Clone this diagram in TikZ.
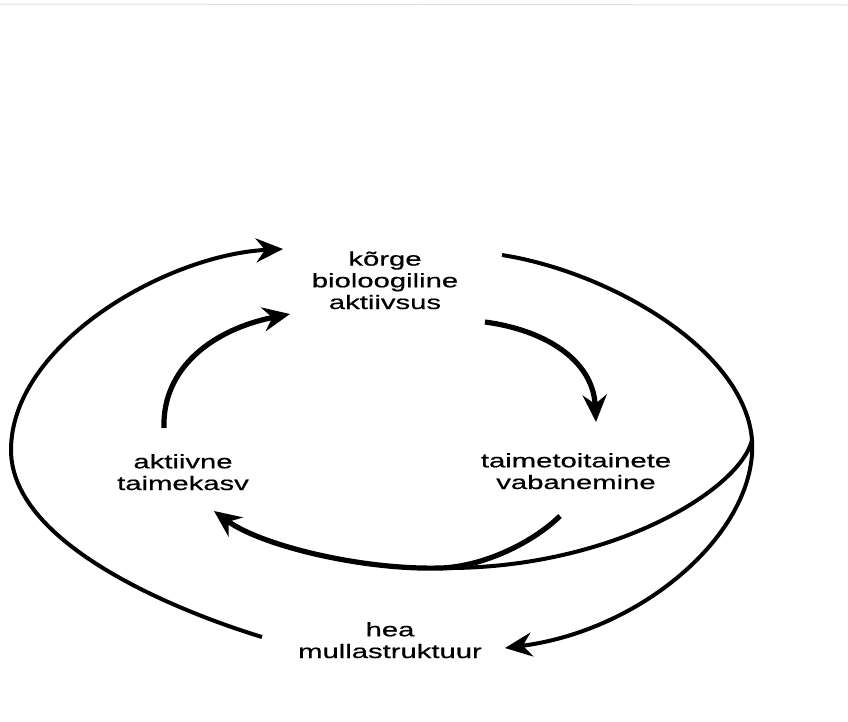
\documentclass[tikz,border=0pt]{standalone}
\usepackage{fontspec}
\newfontfamily\lblfont[FakeStretch=1.5,FakeBold=0.6]{Liberation Sans}
\usetikzlibrary{arrows.meta}
\begin{document}
\begin{tikzpicture}[x=1pt,y=-1pt,
  lbl/.style={font=\lblfont\fontsize{19.5}{21.7}\selectfont, align=center, inner sep=0pt, anchor=base},
  thinarc/.style={line width=4pt},
  thickarc/.style={line width=5.2pt},
  tip/.style={-{Stealth[length=27pt,width=24pt,inset=9pt]}}]
\fill[white] (0,0) rectangle (848,721);
\useasboundingbox (0,0) rectangle (848,721);
\draw[gray!25, line width=1pt] (0,4) -- (848,5);

\node[lbl] (top) at (385,309) {kõrge\\bioloogiline\\aktiivsus};
\node[lbl] (left) at (183,490) {aktiivne\\taimekasv};
\node[lbl] (right) at (576,489) {taimetoitainete\\vabanemine};
\node[lbl] (bottom) at (390,658) {hea\\mullastruktuur};

\coordinate (o1s) at (262,637);
\coordinate (o1l) at (11,450);
\coordinate (o1e) at (283,249);
\coordinate (i1s) at (164,428);
\coordinate (i1e) at (290,314);
\coordinate (i2s) at (485,322);
\coordinate (i2e) at (596,422);
\coordinate (o2s) at (502,255);
\coordinate (J) at (752,440);
\coordinate (o2e) at (505,648);
\coordinate (M) at (440,568);
\coordinate (l5s) at (560,516);
\coordinate (l5e) at (214,511);

\draw[thinarc, tip] (o1s) .. controls (180,612) and (11,545) .. (o1l)
   .. controls (11,345) and (165,255) .. (o1e);
\draw[thickarc, tip] (i1s) .. controls (162,370) and (210,330) .. (i1e);
\draw[thickarc, tip] (i2s) .. controls (545,330) and (593,360) .. (i2e);
\draw[thinarc, tip] (o2s) .. controls (610,272) and (745,350) .. (J)
   .. controls (758,530) and (645,630) .. (o2e);
\draw[thinarc] (J) .. controls (740,490) and (610,570) .. (M);
\draw[thickarc, tip] (l5s) .. controls (530,545) and (480,567) .. (M)
   .. controls (360,570) and (260,545) .. (l5e);
\end{tikzpicture}
\end{document}
